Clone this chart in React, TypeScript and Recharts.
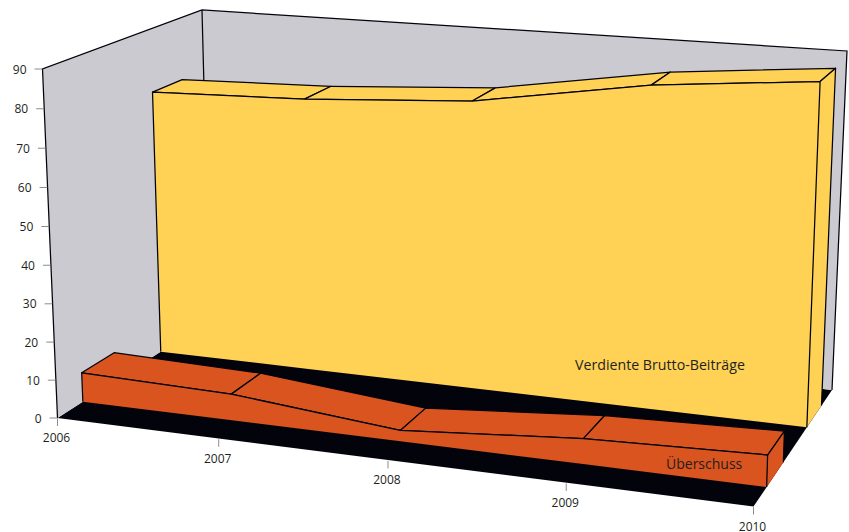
import React from "react";
import { ComposedChart, Line, XAxis, YAxis } from "recharts";

const years = [2006, 2007, 2008, 2009, 2010];
const verdienteYears = [2006, 2006.97, 2008.0, 2009.05, 2010];
const verdiente = [72.8, 74, 76.8, 84.2, 88];
const ueberschussYears = [2006, 2006.93, 2007.94, 2008.99, 2010];
const ueberschuss = [7.8, 6.9, 2.8, 6.4, 7.8];
const yTicks = [0, 10, 20, 30, 40, 50, 60, 70, 80, 90];

const W = 849;
const H = 532;
const AXIS = 1;
const verdienteRows = verdienteYears.map((year, i) => ({ year, value: verdiente[i] }));
const ueberschussRows = ueberschussYears.map((year, i) => ({ year, value: ueberschuss[i] }));

type P = [number, number];
const A: P = [57.5, 418], B: P = [753.5, 506.5], D: P = [832, 390], C: P = [210, 320];
const A1: P = [42.5, 69], C1: P = [202, 10], D1: P = [847, 51];

const sx = A[0] - B[0] + D[0] - C[0];
const sy = A[1] - B[1] + D[1] - C[1];
const dx1 = B[0] - D[0], dx2 = C[0] - D[0], dy1 = B[1] - D[1], dy2 = C[1] - D[1];
const det = dx1 * dy2 - dx2 * dy1;
const g = (sx * dy2 - dx2 * sy) / det;
const h = (dx1 * sy - sx * dy1) / det;

const coef = (a: number, b: number, c: number) => ({ pa: b * (1 + g) - a, pb: c * (1 + h) - a, pc: a });
const floorX = coef(A[0], B[0], C[0]);
const floorY = coef(A[1], B[1], C[1]);
const B1: P = [
  (D1[0] * (1 + g + h) - C1[0] * (1 + h) + A1[0]) / (1 + g),
  (D1[1] * (1 + g + h) - C1[1] * (1 + h) + A1[1]) / (1 + g),
];
const topX = coef(A1[0], B1[0], C1[0]);
const topY = coef(A1[1], B1[1], C1[1]);

const persp = (w: number) => w / (w + (1 - w) * 1.028);

// u: 0..1 along the years, v: 0..1 into the depth, w: 0..1 up the height
function project(u: number, v: number, w: number): P {
  const den = 1 + g * u + h * v;
  const t = persp(w);
  const f = (c: { pa: number; pb: number; pc: number }) => c.pa * u + c.pb * v + c.pc;
  return [
    (f(floorX) * (1 - t) + f(topX) * t) / den,
    (f(floorY) * (1 - t) + f(topY) * t) / den,
  ];
}

const uOf = (cx: number) => (cx - AXIS) / (W - AXIS);
const wOf = (cy: number) => (H - AXIS - cy) / (H - AXIS);
const pts = (list: P[]) => list.map((p) => `${p[0].toFixed(2)},${p[1].toFixed(2)}`).join(" ");

const INK = "#03030c";
const GREY = "#cbcad0";
const TEXT = "#231f20";
const font = "'Open Sans', 'Noto Sans', sans-serif";
const EDGE = 1.25;

function Walls() {
  const c = project;
  return (
    <g>
      <polygon points={pts([c(0, 0, 0), c(0, 1, 0), c(1, 1, 0), c(1, 0, 0)])} fill={INK} />
      <polygon points={pts([c(0, 0, 0), c(0, 0, 1), c(0, 1, 1), c(0, 1, 0)])} fill={GREY} />
      <polygon points={pts([c(0, 1, 0), c(0, 1, 1), c(1, 1, 1), c(1, 1, 0)])} fill={GREY} />
      <polyline
        points={pts([c(0, 0, 0), c(0, 0, 1), c(0, 1, 1), c(1, 1, 1), c(1, 1, 0)])}
        fill="none"
        stroke={INK}
        strokeWidth={EDGE}
      />
      <polyline points={pts([c(0, 1, 1), c(0, 1, 0)])} fill="none" stroke={INK} strokeWidth={EDGE} />
    </g>
  );
}

function Solid({ points, v0, v1, fill }: { points: { u: number; w: number }[]; v0: number; v1: number; fill: string }) {
  const last = points[points.length - 1];
  const front = points.map((p) => project(p.u, v0, p.w));
  const frontBase = points.map((p) => project(p.u, v0, 0));
  const line = { fill: "none", stroke: INK, strokeWidth: EDGE, strokeLinejoin: "round" as const };
  return (
    <g>
      {points.slice(0, -1).map((p, i) => {
        const n = points[i + 1];
        return (
          <polygon
            key={i}
            points={pts([project(p.u, v0, p.w), project(n.u, v0, n.w), project(n.u, v1, n.w), project(p.u, v1, p.w)])}
            fill={fill}
            stroke={INK}
            strokeWidth={EDGE}
            strokeLinejoin="round"
          />
        );
      })}
      <polygon
        points={pts([project(last.u, v0, 0), project(last.u, v1, 0), project(last.u, v1, last.w), project(last.u, v0, last.w)])}
        fill={fill}
      />
      <polyline
        points={pts([project(last.u, v0, last.w), project(last.u, v1, last.w), project(last.u, v1, 0)])}
        {...line}
      />
      <polygon points={pts([...front, ...[...frontBase].reverse()])} fill={fill} />
      <polyline points={pts([frontBase[0], ...front, frontBase[frontBase.length - 1]])} {...line} />
    </g>
  );
}

function solidDot(count: number, v0: number, v1: number, fill: string, label: string, lx: number, ly: number, size: number, withWalls: boolean) {
  let seen: { u: number; w: number }[] = [];
  return (props: any) => {
    if (props.index === 0) seen = [];
    seen.push({ u: uOf(props.cx), w: wOf(props.cy) });
    if (props.index !== count - 1) return <g key={props.index} />;
    return (
      <g key={props.index}>
        {withWalls && <Walls />}
        <Solid points={seen} v0={v0} v1={v1} fill={fill} />
        <text x={lx} y={ly} fontFamily={font} fontSize={size} fill={TEXT} dominantBaseline="central">
          {label}
        </text>
      </g>
    );
  };
}

function XTick(props: any) {
  const u = uOf(props.x);
  const [x0, py] = project(u, 0, 0);
  const px = x0 - 2.8 * Math.sin(Math.PI * u);
  return (
    <g>
      <line x1={px} y1={py + 0.5} x2={px} y2={py + 8} stroke="#6d6e71" strokeWidth={0.8} />
      <text x={px - 1} y={py + 19.5} textAnchor="middle" dominantBaseline="central" fontFamily={font} fontSize={12} fill={TEXT}>
        {props.payload.value}
      </text>
    </g>
  );
}

function YTick(props: any) {
  const [px, py] = project(0, 0, wOf(props.y));
  return (
    <g>
      <line x1={px - 8} y1={py} x2={px} y2={py} stroke="#6d6e71" strokeWidth={0.8} />
      <text x={px - 16} y={py} textAnchor="end" dominantBaseline="central" fontFamily={font} fontSize={12} fill={TEXT}>
        {props.payload.value}
      </text>
    </g>
  );
}

export default function App() {
  return (
    <div style={{ position: "absolute", left: 0, top: 0, width: W, height: H }}>
      <ComposedChart width={W} height={H} margin={{ top: 0, right: 0, bottom: 0, left: 0 }}>
        <XAxis dataKey="year" type="number" domain={[2006, 2010]} ticks={years} height={AXIS} interval={0} axisLine={false} tickLine={false} tick={XTick} allowDataOverflow />
        <YAxis type="number" domain={[0, 90]} ticks={yTicks} width={AXIS} interval={0} axisLine={false} tickLine={false} tick={YTick} />
        <Line
          data={verdienteRows}
          dataKey="value"
          name="Verdiente Brutto-Beiträge"
          stroke="none"
          legendType="none"
          isAnimationActive={false}
          activeDot={false}
          dot={solidDot(verdienteRows.length, 0.65, 0.85, "#ffd255", "Verdiente Brutto-Beiträge", 575, 364, 14.2, true)}
        />
        <Line
          data={ueberschussRows}
          dataKey="value"
          name="Überschuss"
          stroke="none"
          legendType="none"
          isAnimationActive={false}
          activeDot={false}
          dot={solidDot(ueberschussRows.length, 0.15, 0.35, "#d9541e", "Überschuss", 666, 463, 14, false)}
        />
      </ComposedChart>
    </div>
  );
}
